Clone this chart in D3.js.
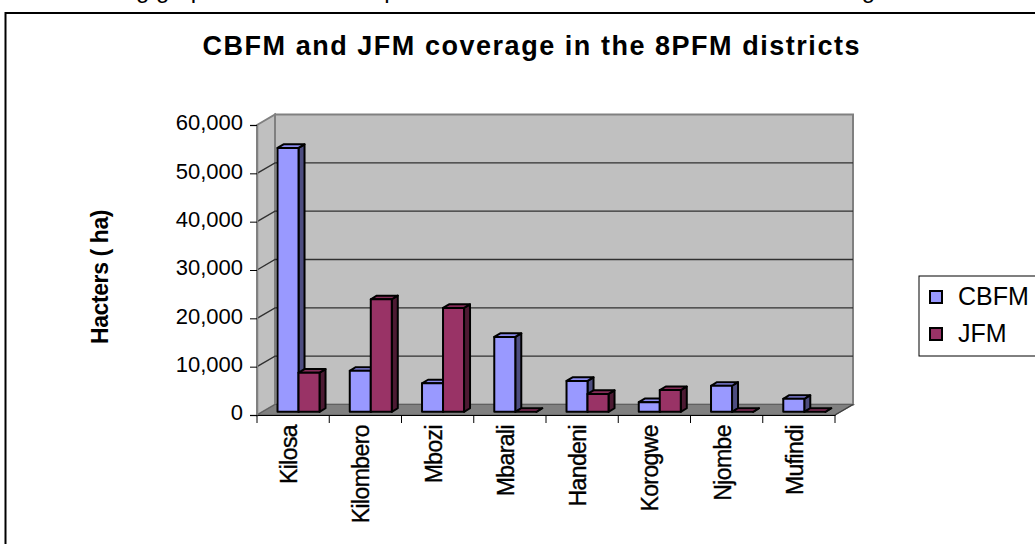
<!DOCTYPE html>
<html>
<head>
<meta charset="utf-8">
<script src="https://cdn.jsdelivr.net/npm/d3@7"></script>
<style>
  html, body { margin: 0; padding: 0; background: #ffffff; overflow: hidden; }
  svg { display: block; font-family: Arial, "Liberation Sans", sans-serif; }
</style>
</head>
<body>
<svg id="chart" width="1035" height="544"></svg>
<script>
// District names along the category axis
const categories = ["Kilosa", "Kilombero", "Mbozi", "Mbarali", "Handeni", "Korogwe", "Njombe", "Mufindi"];
// Area under each management type, hectares
const cbfmValues = [54600, 8500, 5900, 15500, 6400, 2000, 5400, 2700];
const jfmValues  = [8100, 23300, 21500, 0, 3700, 4500, 0, 0];
const seriesNames = ["CBFM", "JFM"];
const yTickValues = [0, 10000, 20000, 30000, 40000, 50000, 60000];

const svg = d3.select("#chart");

// Palette for the two series: front, top and side faces
const palette = {
  CBFM: { front: "#9999ff", top: "#8c8cf0", side: "#4d4d80" },
  JFM:  { front: "#993366", top: "#862d59", side: "#4d1a33" }
};

// Lead-in sentence of the surrounding text, mostly above the page edge
svg.append("text")
  .attr("x", 8).attr("y", -2)
  .attr("font-size", 24)
  .attr("fill", "#000")
  .text("The following graph shows the comparison of the CBFM and JFM areas in the eight PFM districts.");

// Outer chart frame
svg.append("rect")
  .attr("x", 5.5).attr("y", 13).attr("width", 1060).attr("height", 560)
  .attr("fill", "#ffffff").attr("stroke", "#000").attr("stroke-width", 2);

// Title
svg.append("text")
  .attr("x", 531).attr("y", 55)
  .attr("text-anchor", "middle")
  .attr("font-size", 27).attr("font-weight", "bold")
  .attr("textLength", 657).attr("lengthAdjust", "spacing")
  .text("CBFM and JFM coverage in the 8PFM districts");

// 3D plot geometry: front plane and depth vector
const plot = { left: 257, right: 835, base: 415, height: 290 };
const depth = [18, -10.5];

const x = d3.scaleBand().domain(categories).range([plot.left, plot.right]);
const xSeries = d3.scaleBand().domain(seriesNames).range([0, x.bandwidth()]).paddingOuter(0.72);
const y = d3.scaleLinear().domain([0, 60000]).range([plot.base, plot.base - plot.height]);

const pts = arr => arr.map(p => p.join(",")).join(" ");
const yTop = y(60000), yBot = y(0);

// Back wall
svg.append("polygon")
  .attr("points", pts([
    [plot.left + depth[0], yTop + depth[1]], [plot.right + depth[0], yTop + depth[1]],
    [plot.right + depth[0], yBot + depth[1]], [plot.left + depth[0], yBot + depth[1]]
  ]))
  .attr("fill", "#c0c0c0").attr("stroke", "#808080").attr("stroke-width", 2);

// Side wall
svg.append("polygon")
  .attr("points", pts([
    [plot.left, yTop], [plot.left + depth[0], yTop + depth[1]],
    [plot.left + depth[0], yBot + depth[1]], [plot.left, yBot]
  ]))
  .attr("fill", "#c0c0c0").attr("stroke", "#808080").attr("stroke-width", 2);

// Floor
svg.append("polygon")
  .attr("points", pts([
    [plot.left, yBot], [plot.left + depth[0], yBot + depth[1]],
    [plot.right + depth[0], yBot + depth[1]], [plot.right, yBot]
  ]))
  .attr("fill", "#808080").attr("stroke", "#606060").attr("stroke-width", 1.2);

// Gridlines across side and back walls
const grid = svg.append("g");
yTickValues.filter(v => v > 0 && v < 60000).forEach(v => {
  grid.append("polyline")
    .attr("points", pts([
      [plot.left, y(v)], [plot.left + depth[0], y(v) + depth[1]], [plot.right + depth[0], y(v) + depth[1]]
    ]))
    .attr("fill", "none").attr("stroke", "#303030").attr("stroke-width", 1.4);
});

// Value axis
const yAxis = d3.axisLeft(y).tickValues(yTickValues).tickSize(7).tickPadding(7)
  .tickFormat(d3.format(","));
const yAxisG = svg.append("g").attr("transform", `translate(${plot.left},0)`).call(yAxis);
yAxisG.select(".domain").attr("stroke", "#808080").attr("stroke-width", 1.5);
yAxisG.selectAll(".tick line").attr("stroke", "#000").attr("stroke-width", 1);
yAxisG.selectAll(".tick text")
  .attr("font-size", 22).attr("font-family", "Arial, 'Liberation Sans', sans-serif")
  .attr("fill", "#000").attr("dy", "0.22em");

// Category axis along the front edge of the floor
const xAxis = d3.axisBottom(x).tickSize(0).tickFormat("");
const xAxisG = svg.append("g").attr("transform", `translate(0,${plot.base})`).call(xAxis);
xAxisG.select(".domain").attr("stroke", "#000").attr("stroke-width", 1.2);
const boundaries = categories.map(c => x(c)).concat([plot.right]);
xAxisG.selectAll("line.boundary").data(boundaries).join("line")
  .attr("class", "boundary")
  .attr("x1", d => d).attr("x2", d => d).attr("y1", 0).attr("y2", 8)
  .attr("stroke", "#000").attr("stroke-width", 1);
xAxisG.selectAll("text.cat").data(categories).join("text")
  .attr("class", "cat")
  .attr("transform", d => `translate(${x(d) + x.bandwidth() / 2 + 4},10) rotate(-90)`)
  .attr("text-anchor", "end")
  .attr("font-size", 23)
  .attr("letter-spacing", -0.6)
  .attr("fill", "#000")
  .attr("stroke", "#000").attr("stroke-width", 0.35)
  .text(d => d);

// Right edge of the floor
svg.append("line")
  .attr("x1", plot.right).attr("y1", yBot)
  .attr("x2", plot.right + depth[0]).attr("y2", yBot + depth[1])
  .attr("stroke", "#404040").attr("stroke-width", 1.2);

// Bars sit in a row partway into the depth of the floor
const rowShift = [depth[0] * 0.3, depth[1] * 0.3];
const barDepth = [6, -3.6];
const barW = xSeries.bandwidth();

const bars = [];
categories.forEach((c, i) => {
  bars.push({ cat: c, series: "CBFM", value: cbfmValues[i] });
  bars.push({ cat: c, series: "JFM", value: jfmValues[i] });
});

const barG = svg.append("g")
  .attr("stroke", "#000").attr("stroke-width", 2).attr("stroke-linejoin", "round");
bars.forEach(b => {
  const L = x(b.cat) + xSeries(b.series) + rowShift[0];
  const R = L + barW;
  const B = y(0) + rowShift[1];
  const T = y(b.value) + rowShift[1];
  const col = palette[b.series];
  const g = barG.append("g");
  g.append("polygon")
    .attr("points", pts([[R, T], [R + barDepth[0], T + barDepth[1]], [R + barDepth[0], B + barDepth[1]], [R, B]]))
    .attr("fill", col.side);
  g.append("polygon")
    .attr("points", pts([[L, T], [R, T], [R + barDepth[0], T + barDepth[1]], [L + barDepth[0], T + barDepth[1]]]))
    .attr("fill", col.top);
  g.append("rect")
    .attr("x", L).attr("y", T).attr("width", barW).attr("height", Math.max(0, B - T))
    .attr("fill", col.front);
});

// Value axis title
svg.append("text")
  .attr("transform", "translate(108,277) rotate(-90)")
  .attr("text-anchor", "middle")
  .attr("font-size", 23).attr("font-weight", "bold")
  .attr("letter-spacing", -0.4)
  .text("Hacters ( ha)");

// Legend
const legend = svg.append("g").attr("transform", "translate(919,276)");
legend.append("rect")
  .attr("x", 0).attr("y", 0).attr("width", 140).attr("height", 80)
  .attr("fill", "#fff").attr("stroke", "#000").attr("stroke-width", 1);
seriesNames.forEach((s, i) => {
  const row = legend.append("g").attr("transform", `translate(0,${15 + i * 37})`);
  row.append("rect")
    .attr("x", 11).attr("y", 0).attr("width", 12).attr("height", 12)
    .attr("fill", palette[s].front).attr("stroke", "#000").attr("stroke-width", 2);
  row.append("text")
    .attr("x", 39).attr("y", 14)
    .attr("font-size", 25)
    .text(s);
});
</script>
</body>
</html>
